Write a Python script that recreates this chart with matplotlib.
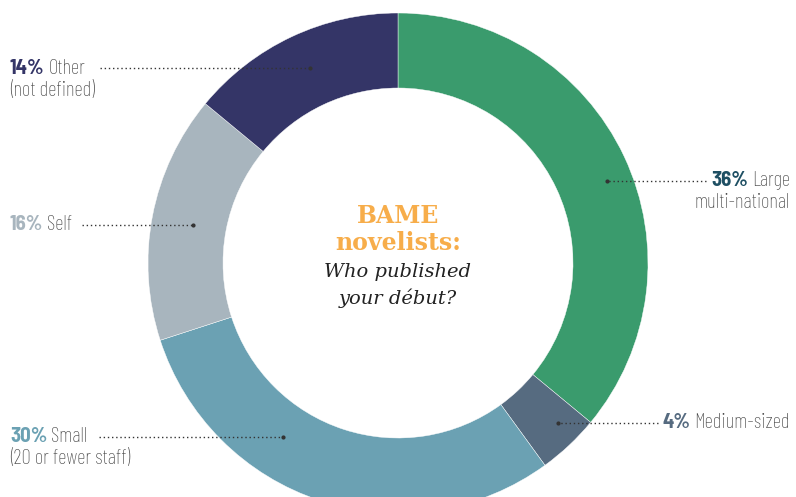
import matplotlib.pyplot as plt

# data
categories = ['Large\nmulti-national', 'Medium-sized', 'Small\n(20 or fewer staff)', 'Self', 'Other\n(not defined)']
shares = [36, 4, 30, 16, 14]
slice_colors = ['#3a9b6d', '#566b80', '#6ba1b3', '#a8b5be', '#343567']
pct_colors = ['#1e4f63', '#566b80', '#6ba1b3', '#a8b5be', '#343567']

W, H = 796, 497
LABEL_FONT = ['Barlow Condensed', 'Roboto Condensed', 'Archivo Narrow', 'DejaVu Sans']
PCT_FONT = ['Barlow Semi Condensed', 'Roboto Condensed', 'Archivo Narrow', 'DejaVu Sans']
TEXT_GREY = '#444444'

def Y(py):
    # pixel row (from top) -> data y
    return H - py

fig = plt.figure(figsize=(W / 100, H / 100), dpi=100)
ax = fig.add_axes([0, 0, 1, 1])

cx, cy, r_out, ring = 398, 263, 250, 75
ax.pie(shares, colors=slice_colors, startangle=90, counterclock=False,
       radius=r_out, center=(cx, Y(cy)),
       wedgeprops=dict(width=ring, edgecolor='white', linewidth=0.3))
ax.set_xlim(0, W)
ax.set_ylim(0, H)
ax.set_aspect('equal')
ax.axis('off')

# centre text
ax.text(cx, Y(216), 'BAME', ha='center', va='center', fontsize=17,
        fontweight='bold', family='DejaVu Serif', color='#f7ad4a')
ax.text(cx, Y(243), 'novelists:', ha='center', va='center', fontsize=17,
        fontweight='bold', family='DejaVu Serif', color='#f7ad4a')
ax.text(cx, Y(272), 'Who published', ha='center', va='center', fontsize=14,
        style='italic', family='DejaVu Serif', color='#222222')
ax.text(cx, Y(298), 'your début?', ha='center', va='center', fontsize=14,
        style='italic', family='DejaVu Serif', color='#222222')

# label placement: (x of text anchor, row, side, leader start, leader end)
label_pos = [
    (790, 181, 'right', 706, 607),
    (790, 423, 'right', 658, 558),
    (10, 437, 'left', 99, 283),
    (10, 225, 'left', 82, 193),
    (10, 68, 'left', 100, 310),
]

fig.canvas.draw()
renderer = fig.canvas.get_renderer()
inv = ax.transData.inverted()

def text_width(t):
    bb = t.get_window_extent(renderer)
    p0 = inv.transform((bb.x0, bb.y0))
    p1 = inv.transform((bb.x1, bb.y1))
    return p1[0] - p0[0]

fs = 15
line_gap = 22
for cat, val, pc, (tx, row, side, l0, l1) in zip(categories, shares, pct_colors, label_pos):
    lines = cat.split('\n')
    pct = f'{val}%'
    if side == 'left':
        t1 = ax.text(tx, Y(row), pct, ha='left', va='center', fontsize=fs,
                     fontweight='bold', family=PCT_FONT, color=pc)
        w = text_width(t1)
        ax.text(tx + w + 4, Y(row), lines[0], ha='left', va='center', fontsize=fs,
                fontweight='light', family=LABEL_FONT, color=TEXT_GREY)
        for k, ln in enumerate(lines[1:], 1):
            ax.text(tx, Y(row + k * line_gap), ln, ha='left', va='center',
                    fontsize=fs, fontweight='light', family=LABEL_FONT, color=TEXT_GREY)
    else:
        t2 = ax.text(tx, Y(row), lines[0], ha='right', va='center', fontsize=fs,
                     fontweight='light', family=LABEL_FONT, color=TEXT_GREY)
        w = text_width(t2)
        ax.text(tx - w - 4, Y(row), pct, ha='right', va='center', fontsize=fs,
                fontweight='bold', family=PCT_FONT, color=pc)
        for k, ln in enumerate(lines[1:], 1):
            ax.text(tx, Y(row + k * line_gap), ln, ha='right', va='center',
                    fontsize=fs, fontweight='light', family=LABEL_FONT, color=TEXT_GREY)
    ax.plot([l0, l1], [Y(row), Y(row)], color='#333333', linewidth=1,
            linestyle=(0, (1, 2)))
    ax.plot([l1], [Y(row)], marker='o', markersize=2, color='#333333')

fig.savefig('out.png', dpi=100)
